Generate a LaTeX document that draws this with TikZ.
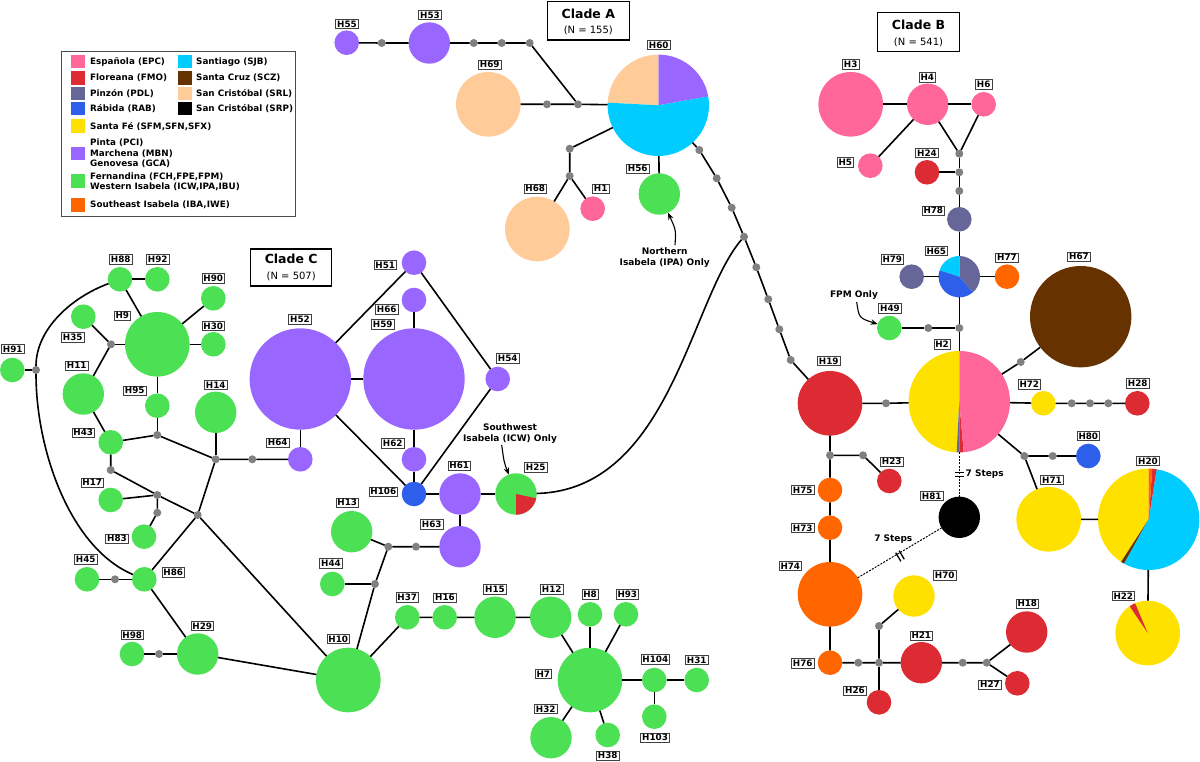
\documentclass[tikz,border=0pt]{standalone}
\usepackage{fontspec}
\setmainfont{DejaVu Sans}
\usetikzlibrary{arrows.meta}
\definecolor{cPink}{RGB}{255,102,153}
\definecolor{cRed}{RGB}{221,43,51}
\definecolor{cSlate}{RGB}{102,102,153}
\definecolor{cBlue}{RGB}{45,95,235}
\definecolor{cYellow}{RGB}{255,225,0}
\definecolor{cPurple}{RGB}{153,102,255}
\definecolor{cGreen}{RGB}{76,224,84}
\definecolor{cOrange}{RGB}{255,102,0}
\definecolor{cCyan}{RGB}{0,204,255}
\definecolor{cBrown}{RGB}{102,51,0}
\definecolor{cPeach}{RGB}{255,204,153}
\definecolor{cDot}{RGB}{128,128,128}
\newcommand{\lblfont}{\fontsize{8.8}{10}\selectfont\bfseries}
\newcommand{\annfont}{\fontsize{9}{11}\selectfont\bfseries}
\newcommand{\legfont}{\fontsize{8.8}{10.5}\selectfont\bfseries}
\newcommand{\hnode}[5]{\node[#1, fill=#2] (#3) at (#4,-#5) {};}
\newcommand{\mydot}[3]{\node[mdot] (#1) at (#2,-#3) {};}
\newcommand{\hlab}[3]{\node[lbl] (l#1) at (#2,-#3) {#1};}
\newcommand{\myslice}[5]{\fill[#5] (#1.center) -- ++(#2:#4) arc[start angle=#2,end angle=#3,radius=#4] -- cycle;}
\tikzset{
  hap/.style={circle, inner sep=0pt, outer sep=0pt},
  hs/.style={hap, minimum size=24.6pt},
  hm/.style={hap, minimum size=41.4pt},
  hl/.style={hap, minimum size=64.6pt},
  hx/.style={hap, minimum size=101.4pt},
  mdot/.style={circle, fill=cDot, inner sep=0pt, outer sep=0pt, minimum size=8pt},
  lbl/.style={draw=black!75, fill=white, line width=0.7pt, inner xsep=1.4pt, inner ysep=1.4pt, font=\lblfont, text height=6.5pt, text depth=0pt},
  ln/.style={line width=1.6pt, black},
  dsh/.style={line width=1pt, dash pattern=on 2pt off 1.3pt},
  arr/.style={line width=1.1pt, -{Stealth[length=7pt,width=5.5pt]}},
  cladebox/.style={draw=black, line width=1.5pt, fill=white},
  ann/.style={font=\annfont, align=center, inner sep=0pt},
  swatch/.style={minimum size=13.5pt, inner sep=0pt},
  legtxt/.style={font=\legfont, anchor=west, align=left, inner sep=0pt}
}
\begin{document}
\begin{tikzpicture}[x=1pt,y=1pt]
\useasboundingbox (0,0) rectangle (1200,-762);
\fill[white] (0,0) rectangle (1200,-762);

% ---------------- Legend ----------------
\draw[draw=black!70, line width=0.9pt] (61.7,-51.7) rectangle (295.7,-216.7);
\node[swatch, fill=cPink] (sw1) at (78,-61.7) {};
\node[legtxt] (tx1) at (90,-61.7) {Española (EPC)};
\node[swatch, fill=cRed] (sw2) at (78,-78) {};
\node[legtxt] (tx2) at (90,-78) {Floreana (FMO)};
\node[swatch, fill=cSlate] (sw3) at (78,-93.3) {};
\node[legtxt] (tx3) at (90,-93.3) {Pinzón (PDL)};
\node[swatch, fill=cBlue] (sw4) at (78,-108.3) {};
\node[legtxt] (tx4) at (90,-108.3) {Rábida (RAB)};
\node[swatch, fill=cCyan] (sw5) at (185,-61.7) {};
\node[legtxt] (tx5) at (196,-61.7) {Santiago (SJB)};
\node[swatch, fill=cBrown] (sw6) at (185,-78) {};
\node[legtxt] (tx6) at (196,-78) {Santa Cruz (SCZ)};
\node[swatch, fill=cPeach] (sw7) at (185,-93.3) {};
\node[legtxt] (tx7) at (196,-93.3) {San Cristóbal (SRL)};
\node[swatch, fill=black] (sw8) at (185,-108.3) {};
\node[legtxt] (tx8) at (196,-108.3) {San Cristóbal (SRP)};
\node[swatch, fill=cYellow] (sw9) at (78,-126.2) {};
\node[legtxt] (tx9) at (90,-126.2) {Santa Fé (SFM,SFN,SFX)};
\node[swatch, fill=cPurple] (sw10) at (78,-153.3) {};
\node[legtxt] (tx10) at (90,-153.3) {Pinta (PCI)\\Marchena (MBN)\\Genovesa (GCA)};
\node[swatch, fill=cGreen] (sw11) at (78,-181) {};
\node[legtxt] (tx11) at (90,-181.7) {Fernandina (FCH,FPE,FPM)\\Western Isabela (ICW,IPA,IBU)};
\node[swatch, fill=cOrange] (sw12) at (78,-205) {};
\node[legtxt] (tx12) at (90,-205) {Southeast Isabela (IBA,IWE)};

% ---------------- Clade boxes ----------------
\node[cladebox, minimum width=82pt, minimum height=38.5pt] (boxA) at (588.3,-20.8) {};
\node[font=\fontsize{12.5}{14}\selectfont\bfseries, inner sep=0pt] (tA1) at (588.3,-13.5) {Clade A};
\node[font=\fontsize{10}{12}\selectfont, inner sep=0pt] (tA2) at (588.3,-30.3) {(N = 155)};
\node[cladebox, minimum width=81.6pt, minimum height=39.4pt] (boxB) at (918.5,-32) {};
\node[font=\fontsize{12.5}{14}\selectfont\bfseries, inner sep=0pt] (tB1) at (918.5,-24.5) {Clade B};
\node[font=\fontsize{10}{12}\selectfont, inner sep=0pt] (tB2) at (918.5,-42.3) {(N = 541)};
\node[cladebox, minimum width=81pt, minimum height=37pt] (boxC) at (291.2,-267.5) {};
\node[font=\fontsize{12.5}{14}\selectfont\bfseries, inner sep=0pt] (tC1) at (291.2,-259.3) {Clade C};
\node[font=\fontsize{10}{12}\selectfont, inner sep=0pt] (tC2) at (291.2,-276.7) {(N = 507)};

% ---------------- Clade A nodes ----------------
\hnode{hs}{cPurple}{H55}{346.7}{42.7}
\mydot{dA1}{381.7}{43}
\hnode{hm}{cPurple}{H53}{429.3}{43}
\mydot{dA2}{473.7}{43}
\mydot{dA3}{501.7}{43}
\mydot{dA4}{529.7}{43}
\mydot{dA5}{578}{104.3}
\mydot{dA6}{547}{104.3}
\hnode{hl}{cPeach}{H69}{488.3}{104.3}
\hnode{hx}{none}{H60}{658.3}{105.3}
\myslice{H60}{10}{90}{50.7pt}{cPurple}
\myslice{H60}{90}{177}{50.7pt}{cPeach}
\myslice{H60}{177}{370}{50.7pt}{cCyan}
\mydot{dA7}{569.7}{148.7}
\mydot{dA8}{569.7}{176}
\hnode{hl}{cPeach}{H68}{537.3}{229}
\hnode{hs}{cPink}{H1}{592.7}{208.7}
\hnode{hm}{cGreen}{H56}{659.3}{194}
\mydot{dP1}{699.3}{150}
\mydot{dP2}{716.7}{178.3}
\mydot{dP3}{731.7}{207.7}
\mydot{dP4}{744}{236.7}
\mydot{dP5}{756.3}{267.3}
\mydot{dP6}{768.3}{299.3}
\mydot{dP7}{779.3}{329.3}
\mydot{dP8}{790.7}{360}

% ---------------- Clade B nodes ----------------
\hnode{hl}{cPink}{H3}{850.7}{104.3}
\hnode{hm}{cPink}{H4}{927.7}{104.3}
\hnode{hs}{cPink}{H6}{983.7}{104.3}
\hnode{hs}{cPink}{H5}{870.3}{165.7}
\mydot{dB1}{959.3}{153.7}
\mydot{dB2}{959.3}{172.3}
\mydot{dB3}{959.3}{191}
\hnode{hs}{cRed}{H24}{927}{172.3}
\hnode{hs}{cSlate}{H78}{959.3}{219.3}
\hnode{hm}{none}{H65}{959.3}{276.7}
\myslice{H65}{-49}{90}{20.7pt}{cSlate}
\myslice{H65}{90}{162}{20.7pt}{cCyan}
\myslice{H65}{162}{311}{20.7pt}{cBlue}
\hnode{hs}{cSlate}{H79}{911.7}{276.7}
\hnode{hs}{cOrange}{H77}{1007}{276.7}
\mydot{dB4}{959.3}{328}
\mydot{dB5}{928.3}{328}
\hnode{hs}{cGreen}{H49}{889.3}{328}
\hnode{hx}{none}{H2}{959.3}{401.7}
\myslice{H2}{90}{267}{50.7pt}{cYellow}
\myslice{H2}{267}{270}{50.7pt}{cSlate}
\myslice{H2}{270}{275}{50.7pt}{cRed}
\myslice{H2}{275}{450}{50.7pt}{cPink}
\mydot{dB6}{1020.7}{362}
\hnode{hx}{cBrown}{H67}{1080.7}{316.7}
\hnode{hs}{cYellow}{H72}{1043.3}{403.3}
\mydot{dB7}{1071.7}{403.3}
\mydot{dB8}{1090}{403.3}
\mydot{dB9}{1108.3}{403.3}
\hnode{hs}{cRed}{H28}{1137.3}{403.3}
\hnode{hl}{cRed}{H19}{830}{403.3}
\mydot{dB10}{886}{403.3}
\mydot{dB11}{1024.3}{456}
\mydot{dB12}{1052.7}{456}
\hnode{hs}{cBlue}{H80}{1088.3}{456}
\hnode{hl}{cYellow}{H71}{1048.7}{519.3}
\hnode{hx}{none}{H20}{1148.7}{519.3}
\myslice{H20}{90}{237}{50.7pt}{cYellow}
\myslice{H20}{237}{241}{50.7pt}{cBrown}
\myslice{H20}{241}{441}{50.7pt}{cCyan}
\myslice{H20}{441}{446}{50.7pt}{cRed}
\myslice{H20}{446}{450}{50.7pt}{cOrange}
\hnode{hl}{cYellow}{H22}{1147.7}{633}
\myslice{H22}{113}{124}{32.3pt}{cRed}
\hnode{hm}{black}{H81}{959.3}{517.3}
\mydot{dB13}{830}{455.3}
\mydot{dB14}{863}{455.3}
\hnode{hs}{cRed}{H23}{889.3}{481}
\hnode{hs}{cOrange}{H75}{830}{490}
\hnode{hs}{cOrange}{H73}{830}{527.7}
\hnode{hl}{cOrange}{H74}{830}{594.3}
\hnode{hs}{cOrange}{H76}{830}{662.7}
\mydot{dB15}{858.3}{662.7}
\mydot{dB16}{879}{662.7}
\hnode{hm}{cRed}{H21}{921.3}{662.7}
\mydot{dB17}{879}{626}
\hnode{hm}{cYellow}{H70}{914}{596}
\hnode{hs}{cRed}{H26}{879}{702.3}
\mydot{dB18}{962.7}{662.7}
\mydot{dB19}{986.7}{662.7}
\hnode{hm}{cRed}{H18}{1026.7}{632}
\hnode{hs}{cRed}{H27}{1017.3}{683.3}

% ---------------- Clade C nodes ----------------
\hnode{hs}{cPurple}{H51}{414}{262.7}
\hnode{hs}{cPurple}{H66}{414}{300}
\hnode{hx}{cPurple}{H59}{414}{379}
\hnode{hx}{cPurple}{H52}{300.3}{379}
\hnode{hs}{cPurple}{H54}{497.7}{379}
\hnode{hs}{cPurple}{H62}{414}{459.3}
\hnode{hs}{cBlue}{H106}{414}{494}
\hnode{hm}{cPurple}{H61}{460}{494}
\hnode{hm}{cGreen}{H25}{516}{494}
\myslice{H25}{-90}{-12}{20.7pt}{cRed}
\hnode{hm}{cPurple}{H63}{460}{546.7}
\hnode{hs}{cPurple}{H64}{300.3}{459.3}
\hnode{hm}{cGreen}{H13}{351.7}{531.7}
\mydot{dC1}{388.3}{546.7}
\mydot{dC2}{416}{546.7}

\hnode{hs}{cGreen}{H88}{120}{279.3}
\hnode{hs}{cGreen}{H92}{157.3}{279.3}
\hnode{hs}{cGreen}{H90}{213.3}{298.3}
\hnode{hl}{cGreen}{H9}{157.3}{344.3}
\hnode{hs}{cGreen}{H30}{213.3}{344.3}
\hnode{hs}{cGreen}{H35}{83.3}{316.7}
\mydot{dL1}{111}{344.3}
\hnode{hs}{cGreen}{H91}{12.3}{370}
\mydot{dL2}{36}{370}
\hnode{hm}{cGreen}{H11}{83.3}{394}
\hnode{hs}{cGreen}{H95}{157.3}{405.7}
\hnode{hm}{cGreen}{H14}{215.7}{412.3}
\mydot{dL3}{157.3}{435}
\hnode{hs}{cGreen}{H43}{110.7}{442.3}
\mydot{dL4}{215.7}{459.3}
\mydot{dL5}{252.3}{459.3}
\mydot{dL6}{110.7}{470}
\hnode{hs}{cGreen}{H17}{110.7}{500}
\mydot{dL7}{157.3}{495}
\mydot{dL8}{157.3}{512.7}
\mydot{dL9}{197.7}{515}
\hnode{hs}{cGreen}{H83}{144}{536.7}
\hnode{hs}{cGreen}{H86}{144.3}{579.3}
\hnode{hs}{cGreen}{H45}{87}{579.3}
\mydot{dL10}{115}{579.3}
\hnode{hm}{cGreen}{H29}{197.7}{654}
\hnode{hs}{cGreen}{H98}{132}{654}
\mydot{dL11}{159}{654}
\hnode{hl}{cGreen}{H10}{348.3}{680}
\hnode{hs}{cGreen}{H44}{332.3}{584}
\mydot{dL12}{375}{584}

\hnode{hs}{cGreen}{H37}{407.3}{617.3}
\hnode{hs}{cGreen}{H16}{444.7}{617.3}
\hnode{hm}{cGreen}{H15}{495}{617.3}
\hnode{hm}{cGreen}{H12}{550.7}{617.3}
\hnode{hs}{cGreen}{H8}{590}{614.3}
\hnode{hs}{cGreen}{H93}{626}{614.3}
\hnode{hl}{cGreen}{H7}{590}{680}
\hnode{hs}{cGreen}{H104}{654.3}{680}
\hnode{hs}{cGreen}{H31}{696.7}{680}
\hnode{hs}{cGreen}{H103}{654.3}{716.7}
\hnode{hm}{cGreen}{H32}{551}{737.7}
\hnode{hs}{cGreen}{H38}{607.7}{735}

% ---------------- Edges ----------------
\draw[ln] (H55) -- (dA1) -- (H53) -- (dA2) -- (dA3) -- (dA4) -- (dA5);
\draw[ln] (H69) -- (dA6) -- (dA5) -- (H60);
\draw[ln] (H60) -- (dA7) -- (dA8) -- (H68);
\draw[ln] (dA8) -- (H1);
\draw[ln] (H60) -- (H56);
\draw[ln] (H60) -- (dP1) -- (dP2) -- (dP3) -- (dP4) -- (dP5) -- (dP6) -- (dP7) -- (dP8) -- (H19);
\draw[ln] (H25) .. controls (670,-490) and (690,-300) .. (dP4);

\draw[ln] (H3) -- (H4) -- (H6);
\draw[ln] (H4) -- (H5);
\draw[ln] (H4) -- (dB1) -- (H6);
\draw[ln] (dB1) -- (dB2) -- (dB3) -- (H78) -- (H65) -- (dB4) -- (H2);
\draw[ln] (H24) -- (dB2);
\draw[ln] (H79) -- (H65) -- (H77);
\draw[ln] (H49) -- (dB5) -- (dB4);
\draw[ln] (H2) -- (dB6) -- (H67);
\draw[ln] (H2) -- (H72) -- (dB7) -- (dB8) -- (dB9) -- (H28);
\draw[ln] (H19) -- (dB10) -- (H2);
\draw[ln] (H2) -- (dB11) -- (dB12) -- (H80);
\draw[ln] (dB11) -- (H71) -- (H20) -- (H22);
\draw[ln] (H19) -- (dB13) -- (H75) -- (H73) -- (H74) -- (H76) -- (dB15) -- (dB16) -- (H21) -- (dB18) -- (dB19) -- (H18);
\draw[ln] (dB19) -- (H27);
\draw[ln] (dB13) -- (dB14) -- (H23);
\draw[ln] (dB16) -- (dB17) -- (H70);
\draw[ln] (dB16) -- (H26);
\draw[dsh] (H2) -- (H81);
\draw[dsh] (H74) -- (H81);
\draw[line width=1.3pt] (954.5,-472.3) -- (964.1,-472.3) (954.5,-476.3) -- (964.1,-476.3);
\draw[line width=1.3pt, rotate around={30.9:(900,-556)}] (898,-551) -- (898,-561) (902,-551) -- (902,-561);
\node[font=\annfont, anchor=west, inner sep=0pt] (st1) at (965.5,-474.3) {7 Steps};
\node[font=\annfont, inner sep=0pt] (st2) at (893.3,-539.3) {7 Steps};

\draw[ln] (H52) -- (H59);
\draw[ln] (H52) -- (H51) -- (H54) -- (H106);
\draw[ln] (H52) -- (H106);
\draw[ln] (H66) -- (H59) -- (H62) -- (H106) -- (H61) -- (H25);
\draw[ln] (H61) -- (H63);
\draw[ln] (H52) -- (H64);
\draw[ln] (H13) -- (dC1) -- (dC2) -- (H63);

\draw[ln] (H88) -- (H92);
\draw[ln] (H88) -- (H9);
\draw[ln] (H9) -- (H90);
\draw[ln] (H9) -- (H30);
\draw[ln] (H9) -- (dL1);
\draw[ln] (H35) -- (dL1) -- (H11);
\draw[ln] (H9) -- (H95) -- (dL3);
\draw[ln] (H11) -- (H43) -- (dL3) -- (dL4) -- (dL5) -- (H64);
\draw[ln] (H14) -- (dL4);
\draw[ln] (H43) -- (dL6) -- (dL7) -- (dL9) -- (H10);
\draw[ln] (H17) -- (dL7);
\draw[ln] (dL7) -- (dL8) -- (H83);
\draw[ln] (dL4) -- (dL9) -- (H86);
\draw[ln] (H86) -- (H29) -- (H10);
\draw[ln] (H29) -- (dL11) -- (H98);
\draw[ln] (H86) -- (dL10) -- (H45);
\draw[ln] (H91) -- (dL2);
\draw[ln] (H88) .. controls (70,-298) and (36,-330) .. (dL2) .. controls (36,-450) and (70,-548) .. (H86);
\draw[ln] (H10) -- (dL12) -- (dC1);
\draw[ln] (H44) -- (dL12);
\draw[ln] (H10) -- (H37) -- (H16) -- (H15) -- (H12) -- (H7);
\draw[ln] (H7) -- (H8);
\draw[ln] (H7) -- (H93);
\draw[ln] (H7) -- (H104) -- (H31);
\draw[ln] (H104) -- (H103);
\draw[ln] (H7) -- (H32);
\draw[ln] (H7) -- (H38);

% ---------------- Annotations ----------------
\node[ann] (annN) at (664.7,-258) {Northern\\Isabela (IPA) Only};
\coordinate (aN) at (675,-245);
\draw[arr] (aN) .. controls (676,-230) .. (H56);
\node[ann] (annF) at (854,-295) {FPM Only};
\coordinate (aF) at (856.7,-302);
\draw[arr] (aF) .. controls (859,-318) .. (H49);
\node[ann] (annS) at (510,-433.8) {Southwest\\Isabela (ICW) Only};
\coordinate (aS) at (501.7,-445);
\draw[arr] (aS) .. controls (504,-462) .. (H25);

% ---------------- Labels ----------------
\hlab{H55}{347}{24}
\hlab{H53}{430}{15}
\hlab{H69}{489.7}{64.7}
\hlab{H60}{658.7}{45}
\hlab{H56}{637.7}{168.7}
\hlab{H68}{535.3}{188.7}
\hlab{H1}{600.7}{188.7}
\hlab{H3}{850.7}{64.3}
\hlab{H4}{927.3}{77.3}
\hlab{H6}{983.7}{84.3}
\hlab{H5}{845.3}{162.3}
\hlab{H24}{927}{153}
\hlab{H78}{933.3}{210.7}
\hlab{H65}{936.3}{251}
\hlab{H79}{892.3}{259.3}
\hlab{H77}{1007}{257.7}
\hlab{H67}{1079}{256.7}
\hlab{H49}{890}{308.3}
\hlab{H2}{942}{344.3}
\hlab{H19}{828.7}{361}
\hlab{H72}{1029.3}{384.3}
\hlab{H28}{1137.7}{383.3}
\hlab{H80}{1088.3}{436}
\hlab{H23}{891.7}{461.7}
\hlab{H71}{1052}{480}
\hlab{H20}{1148}{461}
\hlab{H75}{802.7}{490}
\hlab{H81}{931.7}{496}
\hlab{H73}{802.7}{528}
\hlab{H74}{790.3}{566}
\hlab{H70}{944.7}{575.3}
\hlab{H18}{1027.3}{603.7}
\hlab{H22}{1123.3}{596}
\hlab{H21}{921.3}{635.7}
\hlab{H76}{802.7}{663.3}
\hlab{H26}{855}{690.7}
\hlab{H27}{990}{684.7}
\hlab{H51}{385.3}{265}
\hlab{H66}{386.7}{309.3}
\hlab{H59}{382.7}{324.3}
\hlab{H52}{300}{319.3}
\hlab{H54}{507.7}{358.3}
\hlab{H62}{392.7}{443.3}
\hlab{H64}{277.7}{442.7}
\hlab{H106}{383.3}{491.7}
\hlab{H61}{459.3}{465.7}
\hlab{H25}{535.7}{467.3}
\hlab{H13}{347.3}{502.7}
\hlab{H63}{431.7}{524.3}
\hlab{H88}{120.7}{259.3}
\hlab{H92}{157.7}{259.3}
\hlab{H90}{213.3}{278.3}
\hlab{H9}{122.3}{315.7}
\hlab{H35}{72.7}{337.3}
\hlab{H30}{213.3}{326}
\hlab{H91}{12.7}{349}
\hlab{H11}{76.7}{365.7}
\hlab{H95}{134.7}{390.7}
\hlab{H14}{215.7}{385}
\hlab{H43}{83.3}{432.7}
\hlab{H17}{92.3}{482.7}
\hlab{H83}{117}{538.7}
\hlab{H45}{85.7}{559.3}
\hlab{H86}{173.3}{572.3}
\hlab{H29}{202.3}{626}
\hlab{H98}{132.3}{635}
\hlab{H10}{338.3}{639}
\hlab{H44}{331}{563.3}
\hlab{H37}{407.3}{597.3}
\hlab{H16}{445}{597.7}
\hlab{H15}{495}{589.3}
\hlab{H12}{551.7}{589.3}
\hlab{H8}{590}{594.3}
\hlab{H93}{627.3}{594.3}
\hlab{H7}{543.3}{674}
\hlab{H104}{655.3}{659.3}
\hlab{H31}{696.7}{660}
\hlab{H103}{655}{737.7}
\hlab{H32}{545.7}{709}
\hlab{H38}{607.7}{755.7}
\end{tikzpicture}
\end{document}
